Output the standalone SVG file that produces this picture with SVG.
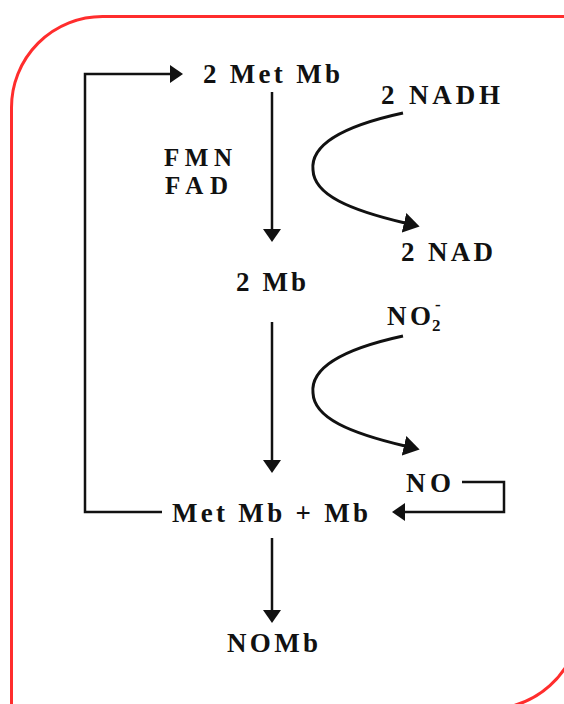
<svg xmlns="http://www.w3.org/2000/svg" width="564" height="704" viewBox="0 0 564 704">
<style>
  .t { font-family: "Liberation Serif", "Times New Roman", serif; font-weight: bold; font-size: 27px; fill: #111; }
  .sm { font-size: 25px; }
  .sub { font-size: 17px; }
  .ln { fill: none; stroke: #111; stroke-width: 2.5; }
  .cv { fill: none; stroke: #111; stroke-width: 3; }
</style>
<defs>
  <marker id="ah" viewBox="0 0 13 18" refX="1" refY="9" markerWidth="13" markerHeight="18" markerUnits="userSpaceOnUse" orient="auto">
    <path d="M0,0 L13,9 L0,18 z" fill="#111"/>
  </marker>
  <marker id="ahc" viewBox="0 0 16 20" refX="1" refY="10" markerWidth="16" markerHeight="20" markerUnits="userSpaceOnUse" orient="auto">
    <path d="M0,0 L16,10 L0,20 z" fill="#111"/>
  </marker>
</defs>
<rect x="0" y="0" width="564" height="704" fill="#fff"/>
<path id="frame" d="M11.5,720 V107.5 A91,91 0 0 1 102.5,16.5 H580 V617.5 A91,91 0 0 1 478.8,708.5 Z" fill="none" stroke="#ff2d2d" stroke-width="3"/>

<g id="connectors">
  <path class="ln" d="M162,512 H85 V74 H171" marker-end="url(#ah)"/>
  <path class="ln" d="M272,92 V230" marker-end="url(#ah)"/>
  <path class="ln" d="M272,322 V461" marker-end="url(#ah)"/>
  <path class="ln" d="M272,538 V611" marker-end="url(#ah)"/>
  <path class="ln" d="M462,482 H504 V512 H404" marker-end="url(#ah)"/>
  <path class="cv" d="M403,113 C325,130 311,152 313,170 C314,195 350,210 405,223" marker-end="url(#ahc)"/>
  <path class="cv" d="M403,336 C325,353 311,375 313,393 C314,418 350,433 405,446" marker-end="url(#ahc)"/>
</g>

<g id="met-mb-2"><text class="t" x="203" y="83" textLength="137" lengthAdjust="spacing">2 Met Mb</text></g>
<g id="nadh"><text class="t" x="381" y="104" textLength="119" lengthAdjust="spacing">2 NADH</text></g>
<g id="fmn-fad">
  <text class="t sm" x="164" y="166" textLength="68" lengthAdjust="spacing">FMN</text>
  <text class="t sm" x="165" y="194" textLength="63" lengthAdjust="spacing">FAD</text>
</g>
<g id="nad"><text class="t" x="401" y="261" textLength="92" lengthAdjust="spacing">2 NAD</text></g>
<g id="mb-2"><text class="t" x="236" y="291" textLength="70" lengthAdjust="spacing">2 Mb</text></g>
<g id="nitrite"><text class="t" x="387" y="325"><tspan textLength="44" lengthAdjust="spacing">NO</tspan><tspan class="sub" x="432" y="331">2</tspan><tspan class="sub" x="435" y="310">-</tspan></text></g>
<g id="no"><text class="t" x="406" y="492" textLength="45" lengthAdjust="spacing">NO</text></g>
<g id="metmb-mb"><text class="t" x="172" y="522" textLength="196" lengthAdjust="spacing">Met Mb + Mb</text></g>
<g id="nomb"><text class="t" x="227" y="652" textLength="91" lengthAdjust="spacing">NOMb</text></g>
</svg>
